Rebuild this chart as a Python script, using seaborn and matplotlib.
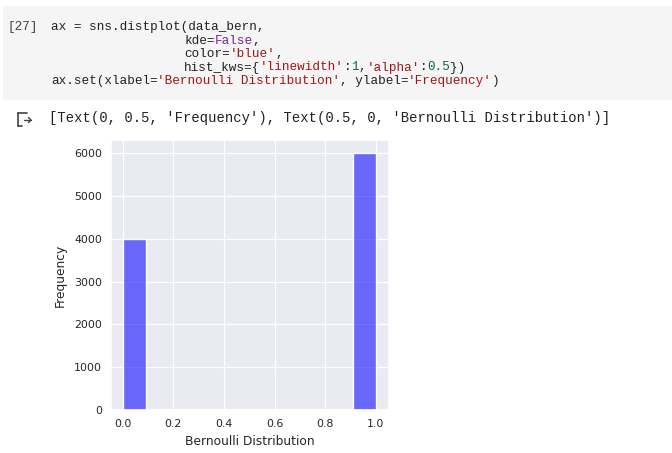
import matplotlib
matplotlib.use("Agg")
import matplotlib.pyplot as plt
import seaborn as sns
from matplotlib.lines import Line2D
from matplotlib.patches import Rectangle

# ---- data ----
outcomes = [0, 1]
counts = [3992, 6008]
n_bins = 11
xlabel = "Bernoulli Distribution"
ylabel = "Frequency"
cell_number = "[27]"
code_lines = [
    [("ax = sns.distplot(data_bern,", "#212121")],
    [("kde=", "#212121"), ("False", "#7b1fa2"), (",", "#212121")],
    [("color=", "#212121"), ("'blue'", "#a31515"), (",", "#212121")],
    [("hist_kws={", "#212121"), ("'linewidth'", "#a31515"), (":", "#212121"),
     ("1", "#116644"), (",", "#212121"), ("'alpha'", "#a31515"), (":", "#212121"),
     ("0.5", "#116644"), ("})", "#212121")],
    [("ax.set(xlabel=", "#212121"), ("'Bernoulli Distribution'", "#a31515"),
     (", ylabel=", "#212121"), ("'Frequency'", "#a31515"), (")", "#212121")],
]
output_text = "[Text(0, 0.5, 'Frequency'), Text(0.5, 0, 'Bernoulli Distribution')]"

sns.set_theme(style="darkgrid")
plt.rcParams["font.family"] = ["DejaVu Sans"]

W, H = 672, 453
fig = plt.figure(figsize=(W / 100, H / 100), dpi=100)
fig.patch.set_facecolor("white")


def fx(x):
    return x / W


def fy(y):
    return 1 - y / H


# code cell background
fig.patches.append(Rectangle((fx(3), fy(100)), fx(672) - fx(3), fy(6) - fy(100),
                             transform=fig.transFigure, facecolor="#f5f5f5",
                             edgecolor="none", zorder=0))

mono = ["Liberation Mono", "DejaVu Sans Mono"]
cw = 7.6
code_size = cw / 0.6 * 72 / 100
fig.text(fx(7), fy(27), cell_number, family=mono, fontsize=code_size,
         color="#424242", va="center", ha="left")
line_y = [27, 40.5, 54, 67.5, 81]
line_x = [51, 184, 184, 184, 51]
for segs, yy, xx in zip(code_lines, line_y, line_x):
    idx = 0
    for txt, col in segs:
        fig.text(fx(xx + idx * cw), fy(yy), txt, family=mono, fontsize=code_size,
                 color=col, va="center", ha="left")
        idx += len(txt)

# output icon
icol = "#424242"
fig.add_artist(Line2D([fx(18), fx(18)], [fy(113), fy(126)], color=icol, lw=1.2,
                      transform=fig.transFigure))
fig.add_artist(Line2D([fx(18), fx(27)], [fy(113), fy(113)], color=icol, lw=1.2,
                      transform=fig.transFigure))
fig.add_artist(Line2D([fx(18), fx(22)], [fy(126), fy(126)], color=icol, lw=1.2,
                      transform=fig.transFigure))
fig.add_artist(Line2D([fx(24), fx(31)], [fy(120), fy(120)], color=icol, lw=1.0,
                      transform=fig.transFigure))
fig.add_artist(Line2D([fx(28.5), fx(31), fx(28.5)], [fy(117.5), fy(120), fy(122.5)],
                      color=icol, lw=1.0, transform=fig.transFigure))

out_cw = 8.32
fig.text(fx(49), fy(118), output_text, family=mono, fontsize=out_cw / 0.6 * 72 / 100,
         color="#212121", va="center", ha="left")

# chart
ax = fig.add_axes([fx(111), fy(410), fx(389) - fx(111), fy(140) - fy(410)])
sns.histplot(x=outcomes, weights=counts, bins=n_bins, binrange=(0, 1),
             color="blue", alpha=0.56, linewidth=1, edgecolor="white", ax=ax)
ax.set_xlim(-0.046, 1.052)
ax.set_xlabel(xlabel, fontsize=8.8, color="#262626", labelpad=4)
ax.set_ylabel(ylabel, fontsize=8.8, color="#262626", labelpad=5)
ax.tick_params(axis="both", labelsize=7.9, colors="#262626", length=0, pad=6.5)
ax.grid(True, color="white", linewidth=0.9)
ax.set_yticks([0, 1000, 2000, 3000, 4000, 5000, 6000])
ax.set_xticks([0.0, 0.2, 0.4, 0.6, 0.8, 1.0])

fig.savefig("out.png", dpi=100)
